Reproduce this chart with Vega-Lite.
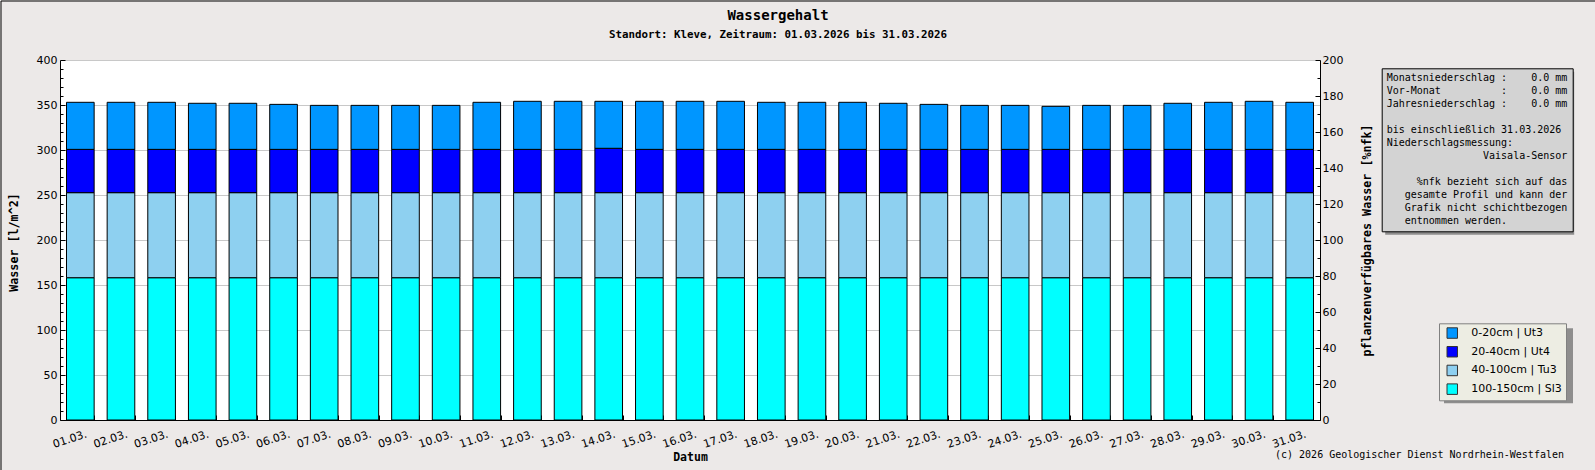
{
  "$schema": "https://vega.github.io/schema/vega-lite/v6.json",
  "description": "Wassergehalt Kleve, Maerz 2026, gestapelte Bodenschichten",
  "autosize": {"type": "none"},
  "padding": {"left": 60, "top": 60, "right": 275, "bottom": 50},
  "width": 1260,
  "height": 360,
  "background": "#ECE9E8",
  "title": {
    "text": "Wassergehalt",
    "subtitle": "Standort: Kleve, Zeitraum: 01.03.2026 bis 31.03.2026",
    "anchor": "middle",
    "frame": "group",
    "dx": 88,
    "offset": -39.5,
    "font": "DejaVu Sans Mono",
    "fontSize": 14,
    "fontWeight": "bold",
    "color": "black",
    "subtitleFont": "DejaVu Sans Mono",
    "subtitleFontSize": 10.8,
    "subtitleFontWeight": "bold",
    "subtitleColor": "black",
    "subtitlePadding": 6
  },
  "config": {
    "view": {"stroke": null, "fill": "white"},
    "axis": {
      "labelColor": "black",
      "titleColor": "black",
      "domainColor": "black",
      "tickColor": "black",
      "labelFont": "DejaVu Sans",
      "titleFont": "DejaVu Sans Mono",
      "titleFontWeight": "bold"
    }
  },
  "resolve": {"scale": {"y": "independent"}},
  "layer": [
    {
      "data": {"values": [{"n": 1}]},
      "mark": {"type": "point", "size": 0, "strokeWidth": 0},
      "encoding": {
        "fill": {
          "datum": 0,
          "type": "quantitative",
          "scale": {"domain": [0, 1], "range": ["#666666", "#666666"]},
          "legend": {
            "title": null,
            "orient": "none",
            "direction": "horizontal",
            "legendX": 1384,
            "legendY": 268.3,
            "padding": 0,
            "gradientLength": 129,
            "gradientThickness": 75,
            "gradientStrokeColor": "#666666",
            "gradientStrokeWidth": 0,
            "labelExpr": "''",
            "labelFontSize": 1
          }
        },
        "stroke": {
          "datum": 0,
          "type": "quantitative",
          "scale": {"domain": [0, 2], "range": ["#666666", "#666666"]},
          "legend": {
            "title": null,
            "orient": "none",
            "direction": "horizontal",
            "legendX": 1325.2,
            "legendY": 11.8,
            "padding": 0,
            "gradientLength": 189,
            "gradientThickness": 163,
            "gradientStrokeColor": "#666666",
            "gradientStrokeWidth": 0,
            "labelExpr": "''",
            "labelFontSize": 1
          }
        },
        "opacity": {
          "datum": "f1",
          "type": "ordinal",
          "legend": {
            "orient": "none",
            "legendX": -59.5,
            "legendY": -59.5,
            "values": [],
            "fillColor": null,
            "strokeColor": "black",
            "padding": 1000,
            "title": "\u200b",
            "titleFontSize": 1
          }
        },
        "strokeOpacity": {
          "datum": "f2",
          "type": "ordinal",
          "legend": {
            "orient": "none",
            "legendX": 1528.5,
            "legendY": -55,
            "values": [],
            "fillColor": "#666666",
            "strokeColor": "black",
            "padding": 300,
            "title": "\u200b",
            "titleFontSize": 1
          }
        },
        "fillOpacity": {
          "datum": "f3",
          "type": "ordinal",
          "legend": {
            "orient": "none",
            "legendX": -55,
            "legendY": 404.5,
            "values": [],
            "fillColor": "#666666",
            "strokeColor": "black",
            "padding": 900,
            "title": "\u200b",
            "titleFontSize": 1
          }
        }
      }
    },
    {
      "data": {"values": [
        {"d": "01.03.", "g": "100-150cm | Sl3", "o": 100, "v": 158.1}, {"d": "01.03.", "g": "40-100cm | Tu3", "o": 40, "v": 94.5}, {"d": "01.03.", "g": "20-40cm | Ut4", "o": 20, "v": 48.1}, {"d": "01.03.", "g": "0-20cm | Ut3", "o": 0, "v": 52.3},
        {"d": "02.03.", "g": "100-150cm | Sl3", "o": 100, "v": 158.1}, {"d": "02.03.", "g": "40-100cm | Tu3", "o": 40, "v": 94.5}, {"d": "02.03.", "g": "20-40cm | Ut4", "o": 20, "v": 48.1}, {"d": "02.03.", "g": "0-20cm | Ut3", "o": 0, "v": 52.3},
        {"d": "03.03.", "g": "100-150cm | Sl3", "o": 100, "v": 158.1}, {"d": "03.03.", "g": "40-100cm | Tu3", "o": 40, "v": 94.5}, {"d": "03.03.", "g": "20-40cm | Ut4", "o": 20, "v": 48.1}, {"d": "03.03.", "g": "0-20cm | Ut3", "o": 0, "v": 52.3},
        {"d": "04.03.", "g": "100-150cm | Sl3", "o": 100, "v": 158.1}, {"d": "04.03.", "g": "40-100cm | Tu3", "o": 40, "v": 94.5}, {"d": "04.03.", "g": "20-40cm | Ut4", "o": 20, "v": 48.1}, {"d": "04.03.", "g": "0-20cm | Ut3", "o": 0, "v": 51.2},
        {"d": "05.03.", "g": "100-150cm | Sl3", "o": 100, "v": 158.1}, {"d": "05.03.", "g": "40-100cm | Tu3", "o": 40, "v": 94.5}, {"d": "05.03.", "g": "20-40cm | Ut4", "o": 20, "v": 48.1}, {"d": "05.03.", "g": "0-20cm | Ut3", "o": 0, "v": 51.2},
        {"d": "06.03.", "g": "100-150cm | Sl3", "o": 100, "v": 158.1}, {"d": "06.03.", "g": "40-100cm | Tu3", "o": 40, "v": 94.5}, {"d": "06.03.", "g": "20-40cm | Ut4", "o": 20, "v": 48.1}, {"d": "06.03.", "g": "0-20cm | Ut3", "o": 0, "v": 50.0},
        {"d": "07.03.", "g": "100-150cm | Sl3", "o": 100, "v": 158.1}, {"d": "07.03.", "g": "40-100cm | Tu3", "o": 40, "v": 94.5}, {"d": "07.03.", "g": "20-40cm | Ut4", "o": 20, "v": 48.1}, {"d": "07.03.", "g": "0-20cm | Ut3", "o": 0, "v": 48.9},
        {"d": "08.03.", "g": "100-150cm | Sl3", "o": 100, "v": 158.1}, {"d": "08.03.", "g": "40-100cm | Tu3", "o": 40, "v": 94.5}, {"d": "08.03.", "g": "20-40cm | Ut4", "o": 20, "v": 48.1}, {"d": "08.03.", "g": "0-20cm | Ut3", "o": 0, "v": 48.9},
        {"d": "09.03.", "g": "100-150cm | Sl3", "o": 100, "v": 158.1}, {"d": "09.03.", "g": "40-100cm | Tu3", "o": 40, "v": 94.5}, {"d": "09.03.", "g": "20-40cm | Ut4", "o": 20, "v": 48.1}, {"d": "09.03.", "g": "0-20cm | Ut3", "o": 0, "v": 48.9},
        {"d": "10.03.", "g": "100-150cm | Sl3", "o": 100, "v": 158.1}, {"d": "10.03.", "g": "40-100cm | Tu3", "o": 40, "v": 94.5}, {"d": "10.03.", "g": "20-40cm | Ut4", "o": 20, "v": 48.1}, {"d": "10.03.", "g": "0-20cm | Ut3", "o": 0, "v": 48.9},
        {"d": "11.03.", "g": "100-150cm | Sl3", "o": 100, "v": 158.1}, {"d": "11.03.", "g": "40-100cm | Tu3", "o": 40, "v": 94.5}, {"d": "11.03.", "g": "20-40cm | Ut4", "o": 20, "v": 48.1}, {"d": "11.03.", "g": "0-20cm | Ut3", "o": 0, "v": 52.3},
        {"d": "12.03.", "g": "100-150cm | Sl3", "o": 100, "v": 158.1}, {"d": "12.03.", "g": "40-100cm | Tu3", "o": 40, "v": 94.5}, {"d": "12.03.", "g": "20-40cm | Ut4", "o": 20, "v": 48.1}, {"d": "12.03.", "g": "0-20cm | Ut3", "o": 0, "v": 53.4},
        {"d": "13.03.", "g": "100-150cm | Sl3", "o": 100, "v": 158.1}, {"d": "13.03.", "g": "40-100cm | Tu3", "o": 40, "v": 94.5}, {"d": "13.03.", "g": "20-40cm | Ut4", "o": 20, "v": 48.1}, {"d": "13.03.", "g": "0-20cm | Ut3", "o": 0, "v": 53.4},
        {"d": "14.03.", "g": "100-150cm | Sl3", "o": 100, "v": 158.1}, {"d": "14.03.", "g": "40-100cm | Tu3", "o": 40, "v": 94.5}, {"d": "14.03.", "g": "20-40cm | Ut4", "o": 20, "v": 49.3}, {"d": "14.03.", "g": "0-20cm | Ut3", "o": 0, "v": 52.2},
        {"d": "15.03.", "g": "100-150cm | Sl3", "o": 100, "v": 158.1}, {"d": "15.03.", "g": "40-100cm | Tu3", "o": 40, "v": 94.5}, {"d": "15.03.", "g": "20-40cm | Ut4", "o": 20, "v": 48.1}, {"d": "15.03.", "g": "0-20cm | Ut3", "o": 0, "v": 53.4},
        {"d": "16.03.", "g": "100-150cm | Sl3", "o": 100, "v": 158.1}, {"d": "16.03.", "g": "40-100cm | Tu3", "o": 40, "v": 94.5}, {"d": "16.03.", "g": "20-40cm | Ut4", "o": 20, "v": 48.1}, {"d": "16.03.", "g": "0-20cm | Ut3", "o": 0, "v": 53.4},
        {"d": "17.03.", "g": "100-150cm | Sl3", "o": 100, "v": 158.1}, {"d": "17.03.", "g": "40-100cm | Tu3", "o": 40, "v": 94.5}, {"d": "17.03.", "g": "20-40cm | Ut4", "o": 20, "v": 48.1}, {"d": "17.03.", "g": "0-20cm | Ut3", "o": 0, "v": 53.4},
        {"d": "18.03.", "g": "100-150cm | Sl3", "o": 100, "v": 158.1}, {"d": "18.03.", "g": "40-100cm | Tu3", "o": 40, "v": 94.5}, {"d": "18.03.", "g": "20-40cm | Ut4", "o": 20, "v": 48.1}, {"d": "18.03.", "g": "0-20cm | Ut3", "o": 0, "v": 52.3},
        {"d": "19.03.", "g": "100-150cm | Sl3", "o": 100, "v": 158.1}, {"d": "19.03.", "g": "40-100cm | Tu3", "o": 40, "v": 94.5}, {"d": "19.03.", "g": "20-40cm | Ut4", "o": 20, "v": 48.1}, {"d": "19.03.", "g": "0-20cm | Ut3", "o": 0, "v": 52.3},
        {"d": "20.03.", "g": "100-150cm | Sl3", "o": 100, "v": 158.1}, {"d": "20.03.", "g": "40-100cm | Tu3", "o": 40, "v": 94.5}, {"d": "20.03.", "g": "20-40cm | Ut4", "o": 20, "v": 48.1}, {"d": "20.03.", "g": "0-20cm | Ut3", "o": 0, "v": 52.3},
        {"d": "21.03.", "g": "100-150cm | Sl3", "o": 100, "v": 158.1}, {"d": "21.03.", "g": "40-100cm | Tu3", "o": 40, "v": 94.5}, {"d": "21.03.", "g": "20-40cm | Ut4", "o": 20, "v": 48.1}, {"d": "21.03.", "g": "0-20cm | Ut3", "o": 0, "v": 51.2},
        {"d": "22.03.", "g": "100-150cm | Sl3", "o": 100, "v": 158.1}, {"d": "22.03.", "g": "40-100cm | Tu3", "o": 40, "v": 94.5}, {"d": "22.03.", "g": "20-40cm | Ut4", "o": 20, "v": 48.1}, {"d": "22.03.", "g": "0-20cm | Ut3", "o": 0, "v": 50.0},
        {"d": "23.03.", "g": "100-150cm | Sl3", "o": 100, "v": 158.1}, {"d": "23.03.", "g": "40-100cm | Tu3", "o": 40, "v": 94.5}, {"d": "23.03.", "g": "20-40cm | Ut4", "o": 20, "v": 48.1}, {"d": "23.03.", "g": "0-20cm | Ut3", "o": 0, "v": 48.9},
        {"d": "24.03.", "g": "100-150cm | Sl3", "o": 100, "v": 158.1}, {"d": "24.03.", "g": "40-100cm | Tu3", "o": 40, "v": 94.5}, {"d": "24.03.", "g": "20-40cm | Ut4", "o": 20, "v": 48.1}, {"d": "24.03.", "g": "0-20cm | Ut3", "o": 0, "v": 48.9},
        {"d": "25.03.", "g": "100-150cm | Sl3", "o": 100, "v": 158.1}, {"d": "25.03.", "g": "40-100cm | Tu3", "o": 40, "v": 94.5}, {"d": "25.03.", "g": "20-40cm | Ut4", "o": 20, "v": 48.1}, {"d": "25.03.", "g": "0-20cm | Ut3", "o": 0, "v": 47.8},
        {"d": "26.03.", "g": "100-150cm | Sl3", "o": 100, "v": 158.1}, {"d": "26.03.", "g": "40-100cm | Tu3", "o": 40, "v": 94.5}, {"d": "26.03.", "g": "20-40cm | Ut4", "o": 20, "v": 48.1}, {"d": "26.03.", "g": "0-20cm | Ut3", "o": 0, "v": 48.9},
        {"d": "27.03.", "g": "100-150cm | Sl3", "o": 100, "v": 158.1}, {"d": "27.03.", "g": "40-100cm | Tu3", "o": 40, "v": 94.5}, {"d": "27.03.", "g": "20-40cm | Ut4", "o": 20, "v": 48.1}, {"d": "27.03.", "g": "0-20cm | Ut3", "o": 0, "v": 48.9},
        {"d": "28.03.", "g": "100-150cm | Sl3", "o": 100, "v": 158.1}, {"d": "28.03.", "g": "40-100cm | Tu3", "o": 40, "v": 94.5}, {"d": "28.03.", "g": "20-40cm | Ut4", "o": 20, "v": 48.1}, {"d": "28.03.", "g": "0-20cm | Ut3", "o": 0, "v": 51.2},
        {"d": "29.03.", "g": "100-150cm | Sl3", "o": 100, "v": 158.1}, {"d": "29.03.", "g": "40-100cm | Tu3", "o": 40, "v": 94.5}, {"d": "29.03.", "g": "20-40cm | Ut4", "o": 20, "v": 48.1}, {"d": "29.03.", "g": "0-20cm | Ut3", "o": 0, "v": 52.3},
        {"d": "30.03.", "g": "100-150cm | Sl3", "o": 100, "v": 158.1}, {"d": "30.03.", "g": "40-100cm | Tu3", "o": 40, "v": 94.5}, {"d": "30.03.", "g": "20-40cm | Ut4", "o": 20, "v": 48.1}, {"d": "30.03.", "g": "0-20cm | Ut3", "o": 0, "v": 53.4},
        {"d": "31.03.", "g": "100-150cm | Sl3", "o": 100, "v": 158.1}, {"d": "31.03.", "g": "40-100cm | Tu3", "o": 40, "v": 94.5}, {"d": "31.03.", "g": "20-40cm | Ut4", "o": 20, "v": 48.1}, {"d": "31.03.", "g": "0-20cm | Ut3", "o": 0, "v": 52.3}
      ]},
      "mark": {"type": "bar", "stroke": "black", "strokeWidth": 1, "opacity": 1},
      "encoding": {
        "x": {
          "field": "d",
          "type": "ordinal",
          "sort": null,
          "scale": {"paddingInner": 0.32, "paddingOuter": 0.16},
          "axis": {
            "title": "Datum",
            "titleFontSize": 11.5,
            "titleBaseline": "middle",
            "titleY": 37,
            "labelAngle": -18,
            "labelFontSize": 11,
            "labelPadding": 13,
            "labelOffset": 4,
            "tickBand": "extent",
            "tickSize": -5,
            "grid": false
          }
        },
        "y": {
          "field": "v",
          "type": "quantitative",
          "stack": "zero",
          "scale": {"domain": [0, 400], "nice": false},
          "axis": {
            "title": "Wasser [l/m^2]",
            "titleFontSize": 11.7,
            "titleAngle": -90,
            "titleBaseline": "middle",
            "titleX": -47,
            "titleY": 182,
            "values": [0, 10, 20, 30, 40, 50, 60, 70, 80, 90, 100, 110, 120, 130, 140, 150, 160, 170, 180, 190, 200, 210, 220, 230, 240, 250, 260, 270, 280, 290, 300, 310, 320, 330, 340, 350, 360, 370, 380, 390, 400],
            "labelExpr": "datum.value % 50 === 0 ? datum.label : ''",
            "labelFontSize": 11,
            "labelPadding": 8,
            "grid": true,
            "gridColor": "#C8C8C8",
            "gridOpacity": {"condition": {"test": "datum.value % 50 === 0", "value": 1}, "value": 0},
            "tickSize": {"condition": {"test": "datum.value % 50 === 0", "value": -5}, "value": -3}
          }
        },
        "color": {
          "field": "g",
          "type": "nominal",
          "scale": {
            "domain": ["0-20cm | Ut3", "20-40cm | Ut4", "40-100cm | Tu3", "100-150cm | Sl3"],
            "range": ["#0096FF", "#0000FF", "#8ED0F0", "#00FFFF"]
          },
          "legend": {
            "title": null,
            "orient": "none",
            "legendX": 1379,
            "legendY": 263.3,
            "fillColor": "#EDEDE3",
            "strokeColor": "#808080",
            "padding": 3.75,
            "rowPadding": 2.7,
            "symbolType": "square",
            "symbolSize": 110,
            "symbolOffset": 3.5,
            "symbolStrokeColor": "#333333",
            "symbolStrokeWidth": 1,
            "labelFont": "DejaVu Sans",
            "labelFontSize": 11,
            "labelColor": "black",
            "labelOffset": 13,
            "labelExpr": "datum.label + '\u00a0\u00a0'"
          }
        },
        "order": {"field": "o", "sort": "descending"}
      }
    },
    {
      "data": {"values": [{"n": 1}]},
      "mark": {"type": "point", "opacity": 0},
      "encoding": {
        "y": {
          "datum": 0,
          "type": "quantitative",
          "scale": {"domain": [0, 200], "nice": false},
          "axis": {
            "orient": "right",
            "title": "pflanzenverfügbares Wasser [%nfk]",
            "titleFontSize": 11.7,
            "titleAngle": -90,
            "titleBaseline": "middle",
            "titleX": 46,
            "titleY": 180,
            "values": [0, 10, 20, 30, 40, 50, 60, 70, 80, 90, 100, 110, 120, 130, 140, 150, 160, 170, 180, 190, 200],
            "labelExpr": "datum.value % 20 === 0 ? datum.label : ''",
            "labelFontSize": 11,
            "labelPadding": 7,
            "grid": false,
            "tickSize": {"condition": {"test": "datum.value % 20 === 0", "value": -5}, "value": -3}
          }
        },
        "shape": {
          "datum": "info",
          "type": "nominal",
          "legend": {
            "orient": "none",
            "legendX": 1321.7,
            "legendY": 8.3,
            "values": [],
            "fillColor": "#D3D3D3",
            "strokeColor": "black",
            "padding": 5,
            "title": [
              "Monatsniederschlag :\u00a0\u00a0\u00a0\u00a00.0 mm",
              "Vor-Monat\u00a0\u00a0\u00a0\u00a0\u00a0\u00a0\u00a0\u00a0\u00a0\u00a0:\u00a0\u00a0\u00a0\u00a00.0 mm",
              "Jahresniederschlag :\u00a0\u00a0\u00a0\u00a00.0 mm",
              "\u200b",
              "bis einschließlich 31.03.2026",
              "Niederschlagsmessung:",
              "\u200b\u00a0\u00a0\u00a0\u00a0\u00a0\u00a0\u00a0\u00a0\u00a0\u00a0\u00a0\u00a0\u00a0\u00a0\u00a0\u00a0Vaisala-Sensor",
              "\u200b",
              "\u200b\u00a0\u00a0\u00a0\u00a0\u00a0%nfk bezieht sich auf das",
              "\u200b\u00a0\u00a0\u00a0gesamte Profil und kann der",
              "\u200b\u00a0\u00a0\u00a0Grafik nicht schichtbezogen",
              "\u200b\u00a0\u00a0\u00a0entnommen werden."
            ],
            "titleFont": "DejaVu Sans Mono",
            "titleFontSize": 10,
            "titleFontWeight": "normal",
            "titleColor": "black",
            "titleLineHeight": 13,
            "titleLimit": 0,
            "titlePadding": 0
          }
        }
      }
    },
    {
      "data": {"values": [{"n": 1}]},
      "mark": {"type": "point", "opacity": 0},
      "encoding": {
        "size": {
          "datum": "c",
          "type": "ordinal",
          "legend": {
            "orient": "none",
            "legendX": 1215,
            "legendY": 389.5,
            "values": [],
            "padding": 0,
            "title": "(c) 2026 Geologischer Dienst Nordrhein-Westfalen",
            "titleFont": "DejaVu Sans Mono",
            "titleFontSize": 10,
            "titleFontWeight": "normal",
            "titleColor": "black",
            "titleLimit": 0,
            "titlePadding": 0
          }
        }
      }
    }
  ]
}
